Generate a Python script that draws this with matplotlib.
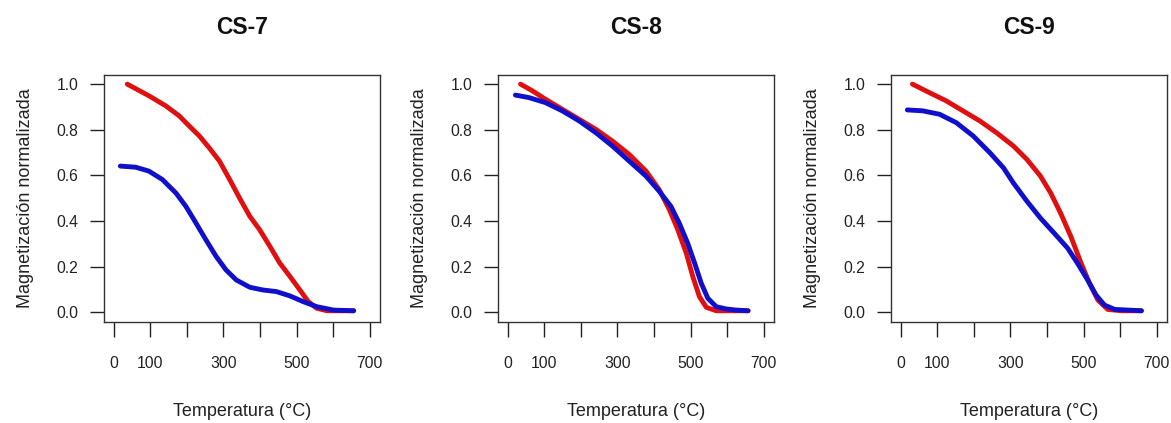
# Curvas de desmagnetizacion termica normalizada, muestras CS-7, CS-8, CS-9
import numpy as np
import matplotlib.pyplot as plt

plt.rcParams['font.family'] = ['Liberation Sans', 'DejaVu Sans']

# datos (temperatura en °C, magnetizacion normalizada)
titles = ['CS-7', 'CS-8', 'CS-9']

t_red_7 = [37, 96, 142, 179, 206, 234, 261, 289, 317, 344, 372, 399, 427, 454, 482, 509, 532, 555, 583, 619, 656]
m_red_7 = [1.0, 0.949, 0.905, 0.861, 0.817, 0.773, 0.721, 0.663, 0.582, 0.501, 0.421, 0.362, 0.289, 0.216, 0.157,
           0.098, 0.047, 0.018, 0.007, 0.007, 0.007]
t_blue_7 = [18, 60, 96, 133, 170, 197, 225, 252, 280, 307, 335, 372, 408, 445, 482, 518, 555, 601, 656]
m_blue_7 = [0.641, 0.636, 0.619, 0.582, 0.523, 0.465, 0.391, 0.318, 0.245, 0.186, 0.142, 0.110, 0.098, 0.091,
            0.072, 0.047, 0.025, 0.010, 0.007]

t_red_8 = [35, 67, 103, 149, 195, 241, 286, 332, 378, 414, 442, 465, 488, 506, 524, 543, 570, 607, 657]
m_red_8 = [1.0, 0.971, 0.934, 0.890, 0.846, 0.802, 0.751, 0.692, 0.619, 0.538, 0.450, 0.362, 0.260, 0.157,
           0.069, 0.022, 0.007, 0.007, 0.007]
t_blue_8 = [21, 58, 103, 149, 195, 241, 286, 332, 378, 414, 446, 469, 492, 511, 529, 547, 570, 597, 625, 657]
m_blue_8 = [0.952, 0.941, 0.919, 0.883, 0.839, 0.787, 0.729, 0.663, 0.597, 0.531, 0.465, 0.391, 0.303, 0.216,
            0.128, 0.062, 0.025, 0.015, 0.010, 0.007]

t_red_9 = [32, 78, 124, 170, 216, 262, 308, 345, 382, 410, 437, 465, 493, 516, 539, 566, 603, 658]
m_red_9 = [1.0, 0.963, 0.927, 0.883, 0.839, 0.787, 0.729, 0.670, 0.597, 0.523, 0.435, 0.333, 0.216, 0.128,
           0.054, 0.013, 0.007, 0.007]
t_blue_9 = [18, 60, 106, 152, 198, 244, 281, 308, 345, 382, 419, 456, 483, 511, 534, 557, 585, 622, 658]
m_blue_9 = [0.887, 0.883, 0.868, 0.831, 0.773, 0.699, 0.633, 0.567, 0.487, 0.413, 0.348, 0.282, 0.216, 0.142,
            0.076, 0.032, 0.013, 0.010, 0.007]

x_ticks = [0, 100, 200, 300, 400, 500, 600, 700]
x_ticklabels = ['0', '100', '', '300', '', '500', '', '700']
y_ticks = [0.0, 0.2, 0.4, 0.6, 0.8, 1.0]

red_curves = [(t_red_7, m_red_7), (t_red_8, m_red_8), (t_red_9, m_red_9)]
blue_curves = [(t_blue_7, m_blue_7), (t_blue_8, m_blue_8), (t_blue_9, m_blue_9)]

W, H = 1171, 423
fig = plt.figure(figsize=(W / 100, H / 100), dpi=100)

# posiciones de los paneles en pixeles (izquierda, ancho)
lefts = [103.5, 497.5, 890.5]
width = 276.5
top, bottom = 75, 321.5

for i in range(3):
    ax = fig.add_axes([lefts[i] / W, 1 - bottom / H, width / W, (bottom - top) / H])
    tr, mr = red_curves[i]
    tb, mb = blue_curves[i]
    ax.plot(tr, mr, color='#E01010', lw=3.5, solid_capstyle='round', solid_joinstyle='round')
    ax.plot(tb, mb, color='#1010CC', lw=3.5, solid_capstyle='round', solid_joinstyle='round')

    ax.set_xlim(-28, 728)
    ax.set_ylim(-0.04, 1.04)
    ax.set_xticks(x_ticks)
    ax.set_xticklabels(x_ticklabels)
    ax.set_yticks(y_ticks)
    ax.set_yticklabels(['%.1f' % v for v in y_ticks])
    ax.tick_params(axis='x', direction='out', length=11, width=1, pad=13.5, labelsize=11.3, colors='#222222')
    ax.tick_params(axis='y', direction='out', length=10, width=1, pad=8, labelsize=11.3, colors='#222222')
    for s in ax.spines.values():
        s.set_color('#333333')
        s.set_linewidth(1)

    cx = (lefts[i] + width / 2) / W
    fig.text(cx, 1 - 28 / H, titles[i], ha='center', va='center', fontsize=16.5, fontweight='bold', color='#111111')
    fig.text(cx, 1 - 411 / H, 'Temperatura (°C)', ha='center', va='center', fontsize=13, color='#222222')
    fig.text((lefts[i] - 78) / W, 1 - ((top + bottom) / 2) / H, 'Magnetización normalizada',
             ha='center', va='center', rotation=90, fontsize=13, color='#222222')

fig.savefig('out.png', dpi=100)
